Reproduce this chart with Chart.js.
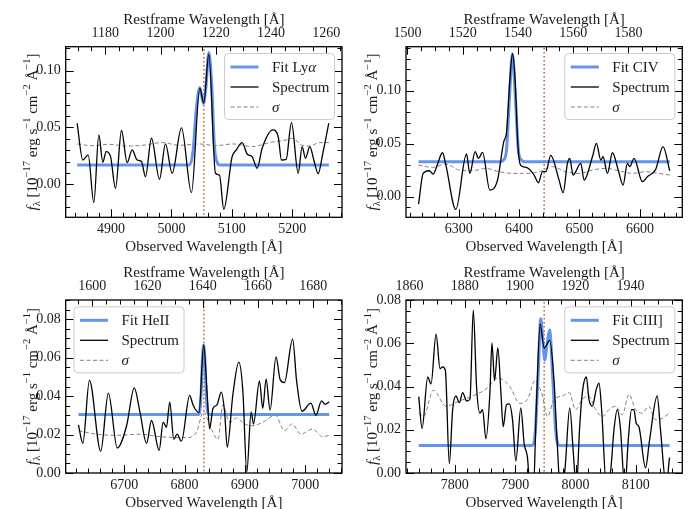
<!DOCTYPE html>
<html>
<head>
<meta charset="utf-8">
<script src="https://cdn.jsdelivr.net/npm/chart.js@4.4.1/dist/chart.umd.min.js"></script>
<style>
  html, body { margin: 0; padding: 0; background: #fff; }
  #wrap { position: relative; width: 692px; height: 509px; overflow: hidden; }
  #wrap canvas { position: absolute; left: 0; top: 0; }
</style>
</head>
<body>
<div id="wrap">
  <canvas id="c1" width="692" height="509"></canvas>
  <canvas id="c2" width="692" height="509"></canvas>
  <canvas id="c3" width="692" height="509"></canvas>
  <canvas id="c4" width="692" height="509"></canvas>
</div>
<script>
// --- Line info ---
const lineRest = [1215.67, 1549.48, 1640.42, 1908.73];
const lineObs = [5053.7, 6441.5, 6832.0, 7948.0];
const restHalfWidth = 50;
const yLimits = [[-0.029, 0.121], [-0.0194, 0.1415], [0, 0.09], [0, 0.08]];
const yStep = [0.05, 0.05, 0.02, 0.02];

// --- Panel 1: Lya ---
const p1SpecWave = [4844.0, 4853.4, 4862.2, 4871.6, 4879.9, 4886.5, 4892.0, 4899.2, 4907.5, 4917.4, 4926.8, 4935.0, 4943.3, 4950.5, 4957.1, 4967.0, 4980.3, 4990.2, 5001.2, 5016.7, 5033.2, 5047.0, 5053.6, 5061.9, 5072.9, 5079.5, 5086.7, 5100.5, 5107.1, 5117.1, 5125.4, 5133.6, 5141.9, 5150.2, 5167.8, 5176.7, 5182.2, 5189.9, 5198.7, 5209.8, 5216.4, 5221.9, 5229.1, 5235.7, 5242.9, 5250.6, 5260.5];
const p1SpecFlux = [0.0537, 0.0214, 0.0258, -0.0161, 0.0434, 0.0194, 0.0288, 0.0246, -0.0035, 0.0473, 0.0191, 0.0302, 0.0214, 0.0200, 0.0067, 0.0405, 0.0045, 0.0355, 0.0097, 0.0496, -0.0073, 0.0845, 0.0716, 0.1144, 0.0097, 0.0082, -0.0220, 0.0243, 0.0300, 0.0367, 0.0267, 0.0243, 0.0141, 0.0317, 0.0478, 0.0420, 0.0214, 0.0220, 0.0543, 0.0097, 0.0332, 0.0229, 0.0332, 0.0214, 0.0094, 0.0273, 0.0537];
const p1FitWave = [4844.0, 5030, 5036, 5041, 5047, 5053, 5057, 5062, 5067, 5071, 5076, 5080, 5260.5];
const p1FitFlux = [0.017, 0.017, 0.030, 0.065, 0.085, 0.071, 0.085, 0.116, 0.085, 0.035, 0.019, 0.017, 0.017];
const p1SigWave = [4844.0, 4868.9, 4896.6, 4924.3, 4952.0, 4985.2, 5012.8, 5046.1, 5073.7, 5101.4, 5134.6, 5162.3, 5190.0, 5201.1, 5214.9, 5228.8, 5245.4, 5260.5];
const p1SigFlux = [0.0355, 0.0340, 0.0352, 0.0337, 0.0343, 0.0367, 0.0343, 0.0355, 0.0340, 0.0355, 0.0332, 0.0367, 0.0390, 0.0405, 0.0346, 0.0337, 0.0367, 0.0367];

// --- Panel 2: CIV ---
const p2SpecWave = [6233.6, 6241.3, 6251.2, 6257.9, 6263.4, 6273.3, 6278.8, 6295.3, 6313.0, 6318.5, 6327.3, 6332.8, 6339.5, 6351.6, 6364.3, 6374.7, 6379.1, 6384.7, 6389.1, 6393.5, 6397.9, 6402.3, 6408.4, 6415.5, 6424.9, 6432.1, 6438.7, 6444.2, 6452.5, 6466.2, 6472.9, 6480.0, 6483.9, 6489.4, 6502.1, 6507.6, 6521.4, 6528.0, 6535.2, 6539.0, 6546.2, 6554.5, 6564.4, 6572.1, 6579.3, 6583.1, 6590.3, 6604.1, 6612.3, 6626.1, 6638.3, 6649.3];
const p2SpecFlux = [-0.007, 0.0220, 0.0245, 0.0214, 0.0280, 0.0415, 0.030, -0.0120, 0.0403, 0.0220, 0.0425, 0.0362, 0.0418, 0.0063, 0.0157, 0.0520, 0.060, 0.110, 0.1346, 0.110, 0.050, 0.030, 0.028, 0.0267, 0.0204, 0.0132, 0.0236, 0.0236, 0.0390, 0.0157, 0.0038, 0.0314, 0.0362, 0.0204, 0.0314, 0.0157, 0.0377, 0.0503, 0.0346, 0.0377, 0.0220, 0.0415, 0.0245, 0.0110, 0.0314, 0.0283, 0.0362, 0.0142, 0.0189, 0.0258, 0.0472, 0.0245];
const p2FitWave = [6233.6, 6369, 6374, 6379, 6384, 6389, 6394, 6399, 6404, 6409, 6649.3];
const p2FitFlux = [0.033, 0.033, 0.0345, 0.043, 0.092, 0.135, 0.092, 0.043, 0.0345, 0.033, 0.033];
const p2SigWave = [6233.6, 6256.8, 6278.8, 6300.9, 6322.9, 6345.0, 6367.0, 6389.1, 6411.1, 6433.2, 6455.2, 6477.3, 6499.3, 6521.4, 6543.4, 6565.5, 6587.5, 6609.6, 6631.6, 6649.3];
const p2SigFlux = [0.0299, 0.0277, 0.0308, 0.0252, 0.0245, 0.0267, 0.0236, 0.0220, 0.0220, 0.0236, 0.0283, 0.0236, 0.0220, 0.0252, 0.0267, 0.0245, 0.0220, 0.0236, 0.0220, 0.0204];

// --- Panel 3: HeII ---
const p3SpecWave = [6624.1, 6631.3, 6642.3, 6661.0, 6673.7, 6688.5, 6703.9, 6716.6, 6726.0, 6737.0, 6745.2, 6757.9, 6764.5, 6770.0, 6775.5, 6782.1, 6787.6, 6794.8, 6808.5, 6814.1, 6824.0, 6831.7, 6837.2, 6841.6, 6847.1, 6853.7, 6860.9, 6866.4, 6870.8, 6880.1, 6890.0, 6896.7, 6903.2, 6910.4, 6914.3, 6924.2, 6929.7, 6935.2, 6941.8, 6951.7, 6958.3, 6965.5, 6979.2, 6985.8, 6994.7, 7009.5, 7017.8, 7027.1, 7033.2, 7039.8];
const p3SpecFlux = [0.0250, 0.0154, 0.0482, 0.0113, 0.0416, 0.0130, 0.0246, 0.0443, 0.0318, 0.0154, 0.0273, 0.0118, 0.0264, 0.0238, 0.0368, 0.0175, 0.0202, 0.0166, 0.0404, 0.0354, 0.0314, 0.0666, 0.0425, 0.0229, 0.0336, 0.0354, 0.0421, 0.0318, 0.0134, 0.0407, 0.0577, 0.0425, 0.0005, 0.0318, 0.0255, 0.0479, 0.0336, 0.0488, 0.0327, 0.0604, 0.0488, 0.0470, 0.0696, 0.0479, 0.0321, 0.0363, 0.0300, 0.0375, 0.0357, 0.0371];
const p3FitWave = [6624.1, 6823.4, 6827.3, 6829.5, 6831.7, 6833.9, 6836.1, 6839.9, 7039.8];
const p3FitFlux = [0.0304, 0.0304, 0.040, 0.058, 0.0666, 0.058, 0.040, 0.0304, 0.0304];
const p3SigWave = [6624.1, 6654.4, 6687.4, 6726.0, 6759.0, 6803.1, 6819.6, 6831.7, 6838.8, 6847.1, 6855.4, 6863.6, 6874.7, 6886.7, 6899.4, 6913.2, 6929.7, 6950.6, 6965.5, 6978.1, 6993.0, 7012.3, 7028.8, 7039.8];
const p3SigFlux = [0.0220, 0.0202, 0.0196, 0.0202, 0.0189, 0.0184, 0.0211, 0.0321, 0.0273, 0.0211, 0.0175, 0.0354, 0.0264, 0.0286, 0.0255, 0.0246, 0.0264, 0.0300, 0.0220, 0.0255, 0.0202, 0.0229, 0.0189, 0.0196];

// --- Panel 4: CIII] ---
const p4SpecWave = [7740.1, 7745.6, 7755.0, 7760.5, 7768.8, 7775.4, 7779.8, 7784.2, 7790.8, 7796.3, 7801.8, 7807.4, 7812.9, 7819.5, 7825.0, 7830.5, 7836.0, 7841.5, 7845.9, 7851.5, 7858.1, 7861.4, 7865.8, 7871.3, 7876.3, 7880.1, 7885.6, 7890.1, 7895.6, 7901.1, 7909.3, 7914.9, 7920.4, 7924.2, 7929.7, 7935.3, 7941.3, 7948.0, 7957.3, 7964.5, 7970.0, 7975.5, 7982.7, 7990.4, 7996.5, 8001.4, 8006.9, 8011.3, 8017.9, 8022.3, 8027.9, 8034.5, 8038.9, 8043.3, 8051.0, 8058.2, 8063.7, 8069.2, 8074.2, 8081.9, 8087.4, 8092.9, 8096.8, 8100.6, 8105.1, 8116.1, 8122.7, 8135.4, 8140.9, 8150.3, 8155.8];
const p4SpecFlux = [0.0353, 0.0206, 0.0444, 0.0412, 0.0642, 0.0483, 0.0491, 0.0475, 0.0043, 0.0293, 0.0356, 0.0325, 0.0372, 0.0333, 0.0341, 0.0753, 0.0396, 0.0277, 0.0293, 0.0158, 0.0372, 0.0602, 0.0428, 0.0578, 0.0372, 0.0214, 0.0317, 0.0320, 0.0246, 0.0055, 0.0301, 0.0135, 0.0071, -0.0071, -0.0103, 0.0325, 0.0689, 0.0578, 0.0613, 0.0420, 0.0119, -0.0103, 0.0024, 0.0301, 0.0087, -0.0071, 0.0214, 0.0372, 0.0444, 0.0341, 0.0309, 0.0388, 0.0415, 0.0293, -0.0055, 0.0008, 0.0198, 0.0293, 0.0214, -0.0071, 0.0151, 0.0293, 0.0293, 0.0230, 0.0214, 0.0024, 0.0151, 0.0356, 0.0198, -0.0055, 0.0071];
const p4FitWave = [7740.1, 7928, 7933, 7938, 7942.4, 7945.7, 7949, 7953, 7957.3, 7962, 7967, 7973, 8155.8];
const p4FitFlux = [0.0127, 0.0127, 0.018, 0.045, 0.0713, 0.062, 0.0523, 0.060, 0.0662, 0.045, 0.020, 0.0127, 0.0127];
const p4SigWave = [7740.1, 7747.8, 7764.4, 7785.3, 7807.4, 7829.4, 7851.5, 7870.8, 7890.1, 7907.7, 7920.4, 7933.1, 7945.2, 7953.5, 7964.5, 7978.3, 7989.3, 8000.3, 8011.3, 8022.3, 8033.4, 8044.4, 8055.4, 8066.5, 8077.5, 8088.5, 8099.5, 8110.6, 8121.6, 8132.6, 8143.7, 8155.8];
const p4SigFlux = [0.0277, 0.0261, 0.0383, 0.0309, 0.0333, 0.0356, 0.0388, 0.0439, 0.0404, 0.0322, 0.0341, 0.0428, 0.0356, 0.0261, 0.0341, 0.0356, 0.0372, 0.0293, 0.0341, 0.0356, 0.0293, 0.0261, 0.0293, 0.0309, 0.0269, 0.0364, 0.0293, 0.0277, 0.0309, 0.0246, 0.0253, 0.0277];

// --- Styling / layout ---
const FONT = '"Liberation Serif", "DejaVu Serif", serif';
const TEXT = '#1a1a1a';
const FIT_COLOR = '#6495ed';
const LINE_COLOR = '#b8602c';
const frames = [
    { l: 65.7, r: 342, t: 46.7, b: 217.3, legend: 'right' },
    { l: 406, r: 682.3, t: 46.7, b: 217.3, legend: 'right' },
    { l: 65.7, r: 342, t: 300, b: 473, legend: 'left' },
    { l: 406, r: 682.3, t: 300, b: 473, legend: 'right' }
];
const fitLabels = [
    [['Fit Ly', 'n'], ['\u03b1', 'i']],
    [['Fit CIV', 'n']],
    [['Fit HeII', 'n']],
    [['Fit CIII]', 'n']]
];
const yLabel = [['f', 'i'], ['\u03bb', 'sub'], [' [10', 'n'], ['\u221217', 'sup'], [' erg s', 'n'], ['\u22121', 'sup'], [' cm', 'n'], ['\u22122', 'sup'], [' \u00c5', 'n'], ['\u22121', 'sup'], [']', 'n']];

const panels = [
    [p1SpecWave, p1SpecFlux, p1FitWave, p1FitFlux, p1SigWave, p1SigFlux],
    [p2SpecWave, p2SpecFlux, p2FitWave, p2FitFlux, p2SigWave, p2SigFlux],
    [p3SpecWave, p3SpecFlux, p3FitWave, p3FitFlux, p3SigWave, p3SigFlux],
    [p4SpecWave, p4SpecFlux, p4FitWave, p4FitFlux, p4SigWave, p4SigFlux]
];

const toPoints = (xs, ys) => xs.map((x, i) => ({ x: x, y: ys[i] }));

// ticks at round multiples of the step only
const multiplesOf = step => scale => {
    const out = [];
    const k0 = Math.ceil(scale.min / step - 1e-9);
    const k1 = Math.floor(scale.max / step + 1e-9);
    for (let k = k0; k <= k1; k++) out.push({ value: +(k * step).toFixed(6) });
    scale.ticks = out;
};

// draws text runs with italic / super / subscript pieces
function drawRich(ctx, parts, x, y, size, align) {
    let total = 0;
    const runs = parts.map(([t, s]) => {
        const fs = (s === 'sup' || s === 'sub') ? size * 0.7 : size;
        const font = (s === 'i' ? 'italic ' : '') + fs + 'px ' + FONT;
        ctx.font = font;
        const w = ctx.measureText(t).width;
        const dy = s === 'sup' ? -size * 0.42 : (s === 'sub' ? size * 0.22 : 0);
        total += w;
        return { t, font, w, dy };
    });
    let cx = align === 'center' ? x - total / 2 : x;
    runs.forEach(r => {
        ctx.font = r.font;
        ctx.fillText(r.t, cx, y + r.dy);
        cx += r.w;
    });
}

function drawTicks(ctx, scale, step, ndiv, a, where) {
    const minor = step / ndiv;
    const k0 = Math.ceil(scale.min / minor - 1e-6);
    const k1 = Math.floor(scale.max / minor + 1e-6);
    ctx.beginPath();
    for (let k = k0; k <= k1; k++) {
        const major = Math.abs(k / ndiv - Math.round(k / ndiv)) < 1e-6;
        const len = major ? 8 : 4.5;
        const p = Math.round(scale.getPixelForValue(k * minor)) + 0.5;
        if (where === 'bottom') { ctx.moveTo(p, a.bottom); ctx.lineTo(p, a.bottom - len); }
        if (where === 'top') { ctx.moveTo(p, a.top); ctx.lineTo(p, a.top + len); }
        if (where === 'y') {
            ctx.moveTo(a.left, p); ctx.lineTo(a.left + len, p);
            ctx.moveTo(a.right, p); ctx.lineTo(a.right - len, p);
        }
    }
    ctx.stroke();
}

const decorPlugin = {
    id: 'decor',
    afterDraw(chart, args, opts) {
        const ctx = chart.ctx;
        const a = chart.chartArea;
        const idx = opts.index;
        ctx.save();

        // inward ticks on all four sides
        ctx.strokeStyle = '#000';
        ctx.lineWidth = 1;
        drawTicks(ctx, chart.scales.x, 100, 5, a, 'bottom');
        drawTicks(ctx, chart.scales.x2, 20, 4, a, 'top');
        const ys = yStep[idx];
        const mant = ys / Math.pow(10, Math.floor(Math.log10(ys) + 1e-9));
        drawTicks(ctx, chart.scales.y, ys, Math.abs(mant - 5) < 1e-6 || Math.abs(mant - 1) < 1e-6 ? 5 : 4, a, 'y');

        // frame
        ctx.lineWidth = 1.3;
        ctx.strokeRect(a.left, a.top, a.right - a.left, a.bottom - a.top);

        // axis titles
        ctx.fillStyle = TEXT;
        ctx.textBaseline = 'middle';
        ctx.textAlign = 'center';
        ctx.font = '15px ' + FONT;
        const cx = (a.left + a.right) / 2;
        ctx.fillText('Restframe Wavelength [\u00c5]', cx, a.top - 27);
        ctx.fillText('Observed Wavelength [\u00c5]', cx, a.bottom + 30);

        ctx.textAlign = 'left';
        ctx.textBaseline = 'alphabetic';
        ctx.save();
        ctx.translate(a.left - 34, (a.top + a.bottom) / 2);
        ctx.rotate(-Math.PI / 2);
        drawRich(ctx, yLabel, 0, 5, 15, 'center');
        ctx.restore();

        // legend
        const w = 110, h = 66;
        const x0 = opts.legend === 'left' ? a.left + 8.3 : a.right - 7.5 - w;
        const y0 = a.top + 6.8;
        ctx.beginPath();
        ctx.roundRect(x0, y0, w, h, 4);
        ctx.fillStyle = 'rgba(255,255,255,0.85)';
        ctx.fill();
        ctx.strokeStyle = '#cccccc';
        ctx.lineWidth = 1;
        ctx.stroke();
        const labels = [fitLabels[idx], [['Spectrum', 'n']], [['\u03c3', 'i']]];
        chart.data.datasets.slice(0, 3).forEach((ds, k) => {
            const yy = y0 + 13.5 + k * 20;
            ctx.beginPath();
            ctx.setLineDash(ds.borderDash || []);
            ctx.strokeStyle = ds.borderColor;
            ctx.lineWidth = ds.borderWidth;
            ctx.moveTo(x0 + 6, yy);
            ctx.lineTo(x0 + 34, yy);
            ctx.stroke();
            ctx.setLineDash([]);
            ctx.fillStyle = TEXT;
            drawRich(ctx, labels[k], x0 + 47.5, yy + 5, 15, 'left');
        });
        ctx.restore();
    }
};

function makePanel(idx) {
    const f = frames[idx];
    const [sw, sf, fw, ff, gw, gf] = panels[idx];
    const center = lineObs[idx];
    const half = restHalfWidth * (lineObs[idx] / lineRest[idx]) * 1.1;
    const [ymin, ymax] = yLimits[idx];
    const tickFont = { family: FONT, size: 14 };
    const zeroPad = s => { s.paddingLeft = 0; s.paddingRight = 0; s.paddingTop = 0; s.paddingBottom = 0; };

    new Chart(document.getElementById('c' + (idx + 1)), {
        type: 'line',
        data: {
            datasets: [
                { label: 'Fit', data: toPoints(fw, ff), borderColor: FIT_COLOR, borderWidth: 3, order: 3 },
                { label: 'Spectrum', data: toPoints(sw, sf), borderColor: '#000000', borderWidth: 1.3, order: 1 },
                { label: 'sigma', data: toPoints(gw, gf), borderColor: '#808080', borderWidth: 1, borderDash: [4, 2.5], order: 2 },
                { label: 'line', data: [{ x: center, y: ymin - 1 }, { x: center, y: ymax + 1 }], borderColor: LINE_COLOR, borderWidth: 1.5, borderDash: [1.5, 2.5], order: 4 }
            ]
        },
        options: {
            responsive: false,
            animation: false,
            events: [],
            datasets: { line: { clip: 0, cubicInterpolationMode: 'monotone', pointRadius: 0, fill: false } },
            layout: { padding: { left: f.l - 45, right: 692 - f.r, top: f.t - 30, bottom: 509 - f.b - 30 } },
            plugins: { legend: { display: false }, tooltip: { enabled: false }, decor: { index: idx, legend: f.legend } },
            scales: {
                x: {
                    type: 'linear', position: 'bottom', min: center - half, max: center + half,
                    grid: { display: false, drawTicks: false }, border: { display: false },
                    afterBuildTicks: multiplesOf(100),
                    ticks: { autoSkip: false, maxRotation: 0, padding: 4, color: TEXT, font: tickFont, callback: v => String(Math.round(v)) },
                    afterFit: s => { s.height = 30; zeroPad(s); }
                },
                x2: {
                    type: 'linear', position: 'top', min: lineRest[idx] - restHalfWidth, max: lineRest[idx] + restHalfWidth,
                    grid: { display: false, drawTicks: false }, border: { display: false },
                    afterBuildTicks: multiplesOf(20),
                    ticks: { autoSkip: false, maxRotation: 0, padding: 5, color: TEXT, font: tickFont, callback: v => String(Math.round(v)) },
                    afterFit: s => { s.height = 30; zeroPad(s); }
                },
                y: {
                    type: 'linear', position: 'left', min: ymin, max: ymax,
                    grid: { display: false, drawTicks: false }, border: { display: false },
                    afterBuildTicks: multiplesOf(yStep[idx]),
                    ticks: { autoSkip: false, padding: 5, color: TEXT, font: tickFont, callback: v => v.toFixed(2) },
                    afterFit: s => { s.width = 45; zeroPad(s); }
                }
            }
        },
        plugins: [decorPlugin]
    });
}

[0, 1, 2, 3].forEach(makePanel);
</script>
</body>
</html>
